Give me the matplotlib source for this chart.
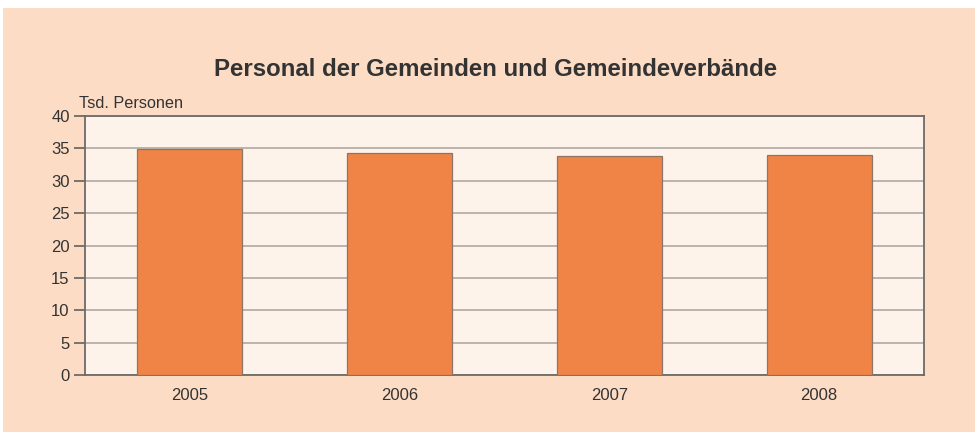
import matplotlib.pyplot as plt
from matplotlib.patches import Rectangle

years = ["2005", "2006", "2007", "2008"]
staff = [34.9, 34.3, 33.75, 34.0]  # Tsd. Personen

plt.rcParams["font.family"] = ["Liberation Sans", "DejaVu Sans"]

fig = plt.figure(figsize=(9.75, 4.32), dpi=100, facecolor="white")
# peach panel behind everything, leaving a thin white margin top/left
fig.patches.append(Rectangle((3 / 975, 0), 1, 1 - 8 / 432, transform=fig.transFigure,
                             facecolor="#FCDCC4", edgecolor="none", zorder=-10))

ax = fig.add_axes([85 / 975, 1 - 375 / 432, 839 / 975, 259 / 432])
ax.set_facecolor("#FEF3EA")

ax.bar(range(len(years)), staff, width=0.5, color="#EF8446",
       edgecolor="#8C7566", linewidth=0.9, zorder=3)

ax.set_xlim(-0.5, len(years) - 0.5)
ax.set_ylim(0, 40)
ax.set_yticks(range(0, 41, 5))
ax.set_xticks(range(len(years)))
ax.set_xticklabels(years)
ax.yaxis.grid(True, color="#A8A29D", linewidth=1.1, zorder=1)
ax.set_axisbelow(True)

for s in ax.spines.values():
    s.set_color("#6E6A67")
    s.set_linewidth(1.3)
ax.tick_params(axis="y", length=8, width=1.3, color="#6E6A67", labelsize=12,
               labelcolor="#333333", pad=3)
ax.tick_params(axis="x", length=0, labelsize=12, labelcolor="#333333", pad=9)

fig.text(79 / 975, 1 - 104 / 432, "Tsd. Personen", fontsize=11.7, color="#333333",
         va="center", ha="left")
fig.text(496 / 975, 1 - 69 / 432, "Personal der Gemeinden und Gemeindeverbände",
         fontsize=17.3, fontweight="bold", color="#333333", ha="center", va="center")

fig.savefig("out.png", dpi=100, facecolor=fig.get_facecolor())
